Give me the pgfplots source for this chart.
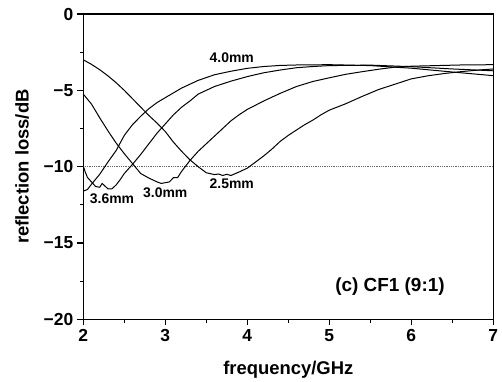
\documentclass[border=0pt]{standalone}
\usepackage{pgfplots}
\pgfplotsset{compat=1.18}
\usepackage{fontspec}
\setmainfont{Liberation Sans}

\begin{document}
\begin{tikzpicture}
\begin{axis}[
  scale only axis,
  width=410bp, height=305.3bp,
  xmin=2, xmax=7, ymin=-20, ymax=0,
  xtick={2,3,4,5,6,7},
  xticklabels={2,3,4,5,6,7},
  ytick={-20,-15,-10,-5,0},
  yticklabels={−20,−15,−10,−5,0},
  minor x tick num=1,
  minor y tick num=1,
  tick pos=left,
  tick align=outside,
  major tick length=6bp,
  minor tick length=3.5bp,
  every tick/.style={black, line width=1.2pt},
  axis line style={line width=1.6pt},
  tick label style={font=\bfseries\fontsize{17.5}{17.5}\selectfont},
  xticklabel style={yshift=-0.5bp},
  yticklabel style={xshift=-0.5bp},
  xlabel={frequency/GHz},
  ylabel={reflection loss/dB},
  label style={font=\bfseries\fontsize{18.5}{18.5}\selectfont},
  xlabel style={at={(axis description cs:0.5,-0.164)}, anchor=center},
  ylabel style={at={(axis description cs:-0.149,0.5)}, anchor=center},
  clip=true,
]
% -10 dB reference level
\addplot[gray!80!black, densely dotted, line width=0.8pt] coordinates {(2,-10) (7,-10)};

% 2.5 mm
\addplot[black, line width=1pt] coordinates {
(2.0,-3.0) (2.1,-3.3) (2.2,-3.65) (2.3,-4.05) (2.4,-4.5) (2.5,-5.0)
(2.6,-5.55) (2.7,-6.1) (2.8,-6.65) (2.9,-7.15) (3.0,-7.7) (3.1,-8.4)
(3.2,-9.0) (3.3,-9.55) (3.4,-10.0) (3.5,-10.4) (3.6,-10.52) (3.65,-10.48)
(3.7,-10.58) (3.75,-10.5) (3.8,-10.58) (3.9,-10.35) (4.0,-10.1) (4.1,-9.7)
(4.2,-9.3) (4.3,-8.85) (4.4,-8.35) (4.5,-7.95) (4.6,-7.6) (4.7,-7.25)
(4.8,-6.95) (4.9,-6.6) (5.0,-6.3) (5.2,-5.88) (5.4,-5.4) (5.6,-4.95)
(5.8,-4.6) (6.0,-4.25) (6.2,-4.05) (6.4,-3.9) (6.6,-3.78) (6.8,-3.68)
(7.0,-3.6)};

% 3.0 mm
\addplot[black, line width=1pt] coordinates {
(2.0,-5.25) (2.1,-5.9) (2.2,-6.8) (2.3,-7.65) (2.4,-8.45) (2.5,-9.15)
(2.6,-9.8) (2.7,-10.45) (2.8,-10.75) (2.9,-11.0) (2.95,-11.1) (3.0,-11.05)
(3.05,-11.0) (3.1,-10.72) (3.15,-10.72) (3.2,-10.3) (3.3,-9.6) (3.4,-9.0)
(3.5,-8.5) (3.6,-8.0) (3.7,-7.5) (3.8,-7.0) (3.9,-6.6) (4.0,-6.25)
(4.2,-5.7) (4.4,-5.2) (4.6,-4.75) (4.8,-4.42) (5.0,-4.18) (5.2,-3.95)
(5.4,-3.78) (5.6,-3.62) (5.8,-3.48) (6.0,-3.42) (6.3,-3.38) (6.6,-3.34)
(7.0,-3.32)};

% 3.6 mm
\addplot[black, line width=1pt] coordinates {
(2.0,-9.95) (2.02,-10.3) (2.05,-10.7) (2.1,-11.0) (2.15,-11.3) (2.2,-11.35)
(2.23,-11.1) (2.27,-11.3) (2.3,-11.45) (2.35,-11.45) (2.4,-11.2) (2.45,-10.85)
(2.5,-10.45) (2.6,-9.85) (2.7,-9.2) (2.8,-8.5) (2.9,-7.8) (3.0,-7.2)
(3.1,-6.6) (3.2,-6.1) (3.3,-5.7) (3.4,-5.25) (3.5,-5.0) (3.6,-4.75)
(3.8,-4.4) (4.0,-4.1) (4.2,-3.85) (4.4,-3.67) (4.6,-3.52) (4.8,-3.44)
(5.0,-3.38) (5.5,-3.35) (6.0,-3.45) (6.5,-3.6) (7.0,-3.72)};

% 4.0 mm
\addplot[black, line width=1pt] coordinates {
(2.0,-11.6) (2.05,-11.5) (2.1,-11.15) (2.2,-10.5) (2.3,-9.7) (2.4,-8.95)
(2.5,-7.95) (2.6,-7.25) (2.7,-6.7) (2.8,-6.2) (2.9,-5.8) (3.0,-5.48)
(3.2,-4.85) (3.4,-4.35) (3.6,-3.98) (3.8,-3.75) (4.0,-3.56) (4.2,-3.44)
(4.4,-3.37) (4.6,-3.34) (5.0,-3.32) (5.5,-3.38) (6.0,-3.55) (6.5,-3.8)
(7.0,-4.04)};

\begin{scope}[font=\bfseries\fontsize{14}{14}\selectfont]
\node at (axis cs:3.81,-2.88) {4.0mm};
\node at (axis cs:3.81,-11.13) {2.5mm};
\node at (axis cs:3.0,-11.72) {3.0mm};
\node at (axis cs:2.35,-12.1) {3.6mm};
\end{scope}
\node[font=\bfseries\fontsize{19}{19}\selectfont] at (axis cs:5.74,-17.86) {(c) CF1 (9:1)};
\end{axis}
\path (current axis.south west) ++(-83.3bp,-60.7bp) coordinate (bbA);
\path (current axis.north east) ++(8.7bp,14bp) coordinate (bbB);
\path (bbA) rectangle (bbB);
\end{tikzpicture}
\end{document}
